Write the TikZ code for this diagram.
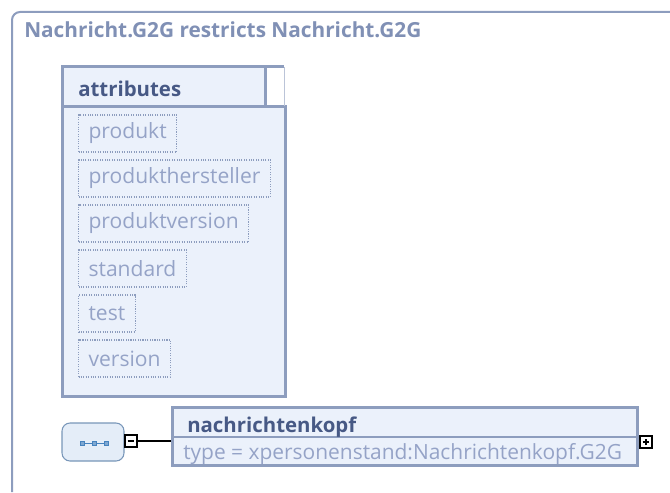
\documentclass[tikz,border=0pt]{standalone}
\usepackage{fontspec}
\setmainfont{Open Sans}
\usetikzlibrary{positioning}
\definecolor{bordergray}{RGB}{141,157,190}
\definecolor{boxfill}{RGB}{235,241,251}
\definecolor{titleblue}{RGB}{128,144,181}
\definecolor{darkblue}{RGB}{71,89,133}
\definecolor{lightblue}{RGB}{149,163,199}
\definecolor{seqfill}{RGB}{228,237,248}
\definecolor{seqborder}{RGB}{120,150,185}
\definecolor{dotblue}{RGB}{70,130,190}
\tikzset{
    frame/.style={draw=bordergray, line width=1.5pt},
    box/.style={draw=bordergray, fill=boxfill, line width=2.25pt},
    attr/.style={draw=bordergray, densely dotted, thick, text=lightblue, anchor=west,
        inner xsep=7.5pt, inner ysep=0pt, minimum height=27.75pt,
        font=\fontsize{15.8}{18}\selectfont},
    head/.style={anchor=base west, inner sep=0pt, text=darkblue, font=\fontsize{15.3}{18}\selectfont\bfseries},
    seq/.style={draw=seqborder, fill=seqfill, thick, rounded corners=6pt,
        minimum width=46.5pt, minimum height=28.5pt},
    toggle/.style={draw=black, thick, fill=white, minimum size=9pt, inner sep=0pt},
    dot/.style={draw=dotblue, fill=dotblue!70, minimum size=3pt, inner sep=0pt}
}
\begin{document}
\begin{tikzpicture}[x=0.75pt,y=-0.75pt]
\useasboundingbox (0,0) rectangle (670,492);

\draw[frame, rounded corners=6pt] (670,12) -- (12,12) -- (12,492);
\node[head, text=titleblue, font=\fontsize{15.6}{18}\selectfont\bfseries] (title) at (24,38) {Nachricht.G2G restricts Nachricht.G2G};

\draw[box] (62,106) rectangle (285,396);
\draw[box] (62,67) rectangle (265,106);
\draw[bordergray, line width=2.25pt] (265,67) -- (284,67);
\draw[bordergray!60, thin] (284,67) -- (284,106);
\node[head] (attrs) at (78,96) {attributes};

\node[attr] (a0) at (78,133.5) {produkt};
\node[attr] (a1) at (78,178.5) {produkthersteller};
\node[attr] (a2) at (78,223.5) {produktversion};
\node[attr] (a3) at (78,268.5) {standard};
\node[attr] (a4) at (78,313.5) {test};
\node[attr] (a5) at (78,358.5) {version};

\node[seq] (seq) at (93,442) {};
\node[dot] (d0) at (82,443) {};
\node[dot] (d1) at (94,443) {};
\node[dot] (d2) at (106,443) {};
\draw[dotblue] (d0) -- (d1);
\draw[dotblue] (d1) -- (d2);

\node[toggle] (minus) at (131,441) {};
\draw[thick] ([xshift=-2.5pt]minus.center) -- ([xshift=2.5pt]minus.center);

\node[box, minimum width=348.75pt, minimum height=43.5pt, inner sep=0pt] (kopf) at (404.5,436) {};
\draw[bordergray, thick] (173,437) -- (636,437);
\node[head] (kname) at (187,432) {nachrichtenkopf};
\node[anchor=base west, inner sep=0pt, text=lightblue, font=\fontsize{15.7}{18}\selectfont] (ktype) at (183,459) {type = xpersonenstand:Nachrichtenkopf.G2G};

\draw[thick] (minus.east) -- (minus.east -| kopf.west);

\node[toggle] (plus) at (646,442) {};
\draw[thick] ([xshift=-2.5pt]plus.center) -- ([xshift=2.5pt]plus.center);
\draw[thick] ([yshift=-2.5pt]plus.center) -- ([yshift=2.5pt]plus.center);
\end{tikzpicture}
\end{document}
